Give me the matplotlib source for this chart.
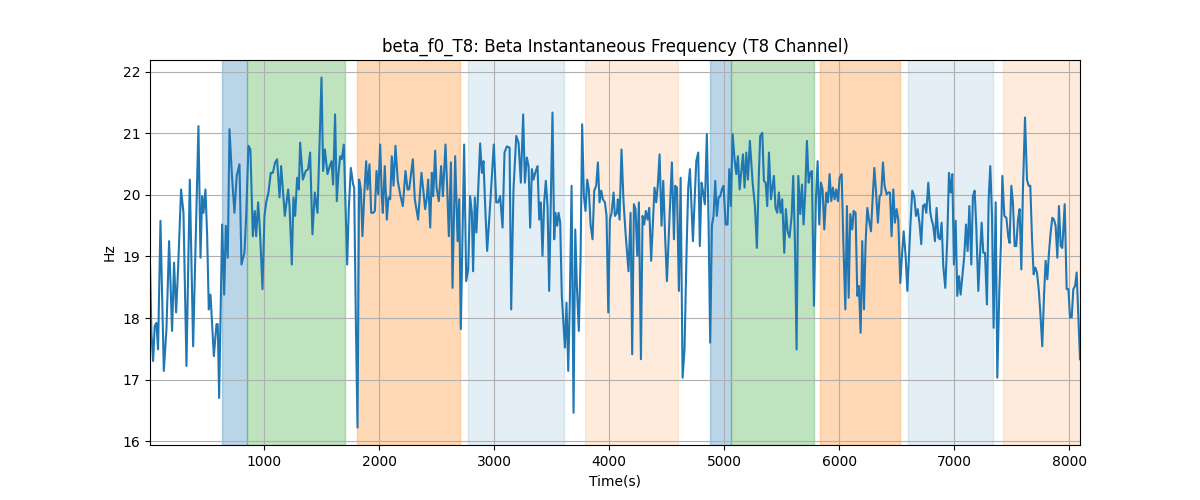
import matplotlib
matplotlib.use('Agg')
import matplotlib.pyplot as plt

# time (s) and beta instantaneous frequency (Hz)
time = [8, 20, 35, 49, 64, 78, 99, 128, 151, 174, 200, 217, 235, 252, 278, 299, 325, 354, 383, 403,
        429, 447, 461, 473, 490, 505, 519, 534, 563, 586, 597, 609, 635, 653, 667,
        684, 699, 719, 742, 762, 786, 803, 829, 844, 864, 881, 902, 919, 931, 948, 963, 986, 1003,
        1018, 1038, 1058, 1076, 1096, 1113, 1134, 1148, 1180, 1209, 1221, 1241, 1255, 1270, 1287,
        1302, 1313, 1337,
        1362, 1383, 1400, 1420, 1441, 1464, 1499, 1513, 1528, 1551, 1571, 1586, 1600, 1617, 1632,
        1646, 1661, 1675, 1693, 1704, 1722, 1736, 1754, 1774, 1783, 1797, 1812, 1826, 1841, 1855,
        1870, 1887, 1899, 1916, 1931, 1948, 1963, 1977, 1992, 2009, 2023,
        2032, 2049, 2067, 2081, 2096, 2110, 2125, 2142, 2162, 2186, 2206, 2229, 2247, 2261, 2275,
        2293, 2310, 2339, 2368, 2386, 2400, 2415, 2426, 2444, 2458, 2470, 2487, 2499, 2519, 2539,
        2554, 2577, 2592, 2606, 2624, 2638, 2661, 2682, 2696, 2710,
        2739, 2757, 2774, 2791, 2806, 2817, 2832, 2846, 2861, 2878, 2893, 2907, 2922, 2939, 2959,
        2980, 2997, 3018, 3035, 3052, 3073, 3090, 3110, 3134, 3148, 3168, 3192, 3212, 3232, 3252,
        3267, 3284, 3299, 3313, 3328, 3342, 3357, 3377, 3392,
        3406, 3420, 3435, 3449, 3464, 3478, 3493, 3507, 3522, 3533, 3548, 3560, 3574, 3588, 3615,
        3629, 3644, 3658, 3673, 3690, 3705, 3719, 3736, 3751, 3765, 3780, 3794, 3809, 3823, 3838,
        3855, 3870, 3887, 3902, 3916, 3931, 3945, 3963, 3977, 3992, 4006, 4021, 4038, 4050, 4067,
        4075, 4090, 4107, 4125, 4142, 4168, 4186, 4200, 4215, 4229, 4244, 4258, 4276, 4290, 4304,
        4319, 4334, 4348, 4365, 4380, 4394, 4409, 4423, 4438, 4455, 4470, 4487, 4502, 4525, 4545,
        4563, 4574, 4589, 4606, 4621, 4638, 4655, 4673, 4687, 4702, 4728, 4757,
        4774, 4788, 4803, 4817, 4832, 4849, 4864, 4878, 4893, 4907, 4922, 4936, 4951, 4965, 4980,
        4994, 5012, 5029, 5044, 5058, 5073, 5090, 5105, 5119, 5134, 5151, 5163, 5177, 5192, 5206,
        5223, 5247, 5267, 5284, 5302, 5313, 5331, 5345, 5360, 5374, 5389, 5406,
        5432, 5446, 5461, 5475, 5490, 5504, 5522, 5536, 5551, 5568, 5586, 5600, 5615, 5629, 5644,
        5661, 5676, 5690, 5704, 5719, 5734, 5748, 5762, 5780, 5797, 5812, 5826, 5841, 5855, 5870,
        5887, 5902, 5916, 5931, 5945, 5960, 5974, 5989, 6003, 6021, 6035, 6053, 6067, 6082, 6096, 6113,
        6125, 6142, 6157, 6171, 6186, 6200, 6215, 6229, 6244, 6258, 6276, 6290, 6305, 6319, 6336,
        6351, 6365, 6380, 6394, 6412, 6426, 6441, 6455, 6470, 6484, 6499, 6513, 6531, 6545, 6560,
        6577, 6592, 6606, 6621, 6635, 6652, 6667, 6682, 6699, 6713, 6728, 6742, 6757, 6774, 6792,
        6803, 6817, 6832, 6846, 6861, 6875, 6890, 6904, 6922, 6939, 6954, 6968, 6983, 6997, 7012,
        7026, 7041, 7055, 7073, 7087, 7102, 7116, 7131, 7148, 7162, 7177, 7191, 7209, 7223, 7238,
        7252, 7267, 7284, 7299, 7313, 7328, 7342, 7360, 7374, 7392, 7406, 7418, 7435, 7453, 7470,
        7481, 7496, 7510, 7525, 7539, 7554, 7568, 7583, 7597, 7615, 7632, 7647, 7661, 7676, 7690,
        7705, 7719, 7734, 7748, 7765, 7780, 7794, 7809, 7823, 7838, 7852, 7867, 7881, 7896, 7910,
        7925, 7939, 7960, 7977, 7992, 8006, 8021, 8035, 8050, 8064, 8079, 8093]

beta_f0 = [18.90, 17.76, 17.30, 17.87, 17.92, 17.49, 19.58, 17.14, 17.82, 19.25, 17.79, 18.90, 18.09, 18.79,
           20.09, 19.71, 17.22, 20.25, 17.54, 19.12, 21.12, 18.98, 19.98, 19.71, 20.09, 19.33, 18.14,
           18.38, 17.38, 17.90, 17.90, 16.70, 19.52, 18.38, 19.50,
           18.98, 21.07, 20.36, 19.71, 20.31, 20.50, 18.87, 19.06, 19.66, 20.80, 20.74, 19.33, 19.74,
           19.33, 19.88, 19.45, 18.47, 19.66, 19.88, 20.04, 20.36, 20.36, 20.53, 20.58, 19.96, 20.47,
           19.66, 20.09, 19.82, 18.87, 19.96, 19.66, 20.28, 20.09, 20.85, 20.25,
           20.39, 20.42, 20.69, 19.36, 20.04, 19.71, 21.91, 20.39, 20.74, 20.34, 20.47, 20.55, 20.17,
           21.31, 19.90, 20.34, 20.63, 20.58, 20.82, 20.09, 18.87, 19.77, 20.44, 20.17, 20.12, 18.03,
           16.22, 20.25, 20.09, 19.33, 19.98, 20.55, 20.09, 20.50, 19.71, 19.71, 19.74, 20.39, 20.01,
           20.82, 19.98,
           19.71, 20.47, 19.60, 19.96, 19.93, 20.63, 20.15, 20.80, 20.23, 19.98, 19.82, 20.39, 20.09,
           20.09, 20.31, 20.58, 19.93, 19.60, 20.36, 20.04, 19.77, 19.96, 20.25, 19.47, 20.36, 19.98,
           20.72, 20.12, 19.90, 20.47, 19.98, 20.82, 20.09, 19.33, 20.53, 18.49, 20.63, 19.25, 19.93, 17.82,
           20.82, 18.60, 18.79, 19.98, 19.71, 18.76, 19.96, 19.39, 20.09, 20.84, 20.36, 20.55, 19.82,
           19.09, 19.66, 20.31, 20.82, 19.88, 19.88, 19.98, 19.47, 20.69, 20.79, 20.77, 18.14, 20.09,
           20.96, 20.85, 20.20, 21.31, 20.20, 20.61, 20.47, 19.47, 20.42, 20.25, 20.36, 20.47, 19.60,
           19.88, 19.01, 19.88, 20.23, 19.82, 18.44, 19.98, 21.34, 19.28, 19.71, 19.50, 19.71, 19.55,
           18.36, 17.52, 18.25, 17.14, 18.30, 20.15, 16.46, 19.44, 18.52, 17.79, 18.95, 21.15, 19.98,
           19.74, 20.25, 20.09, 19.52, 19.28, 20.07, 20.15, 20.53, 19.88, 20.07, 19.93, 19.88, 19.66,
           18.09, 19.60, 19.71, 20.04, 19.66, 19.71,
           19.93, 19.60, 20.74, 19.88, 19.39, 18.76, 19.71, 17.41, 19.85, 19.77, 19.01, 19.88, 17.33,
           19.66, 19.52, 19.74, 19.60, 19.79, 18.93, 19.55, 20.12, 19.88, 20.17, 20.66, 19.50, 20.23,
           19.28, 18.60, 19.66, 20.53, 19.28, 20.15, 20.12, 18.44, 20.28, 17.03, 17.49, 19.12, 20.12,
           20.42, 19.25, 20.55,
           20.69, 19.17, 20.20, 20.04, 19.85, 20.99, 19.55, 17.60, 19.50, 19.66, 20.23, 19.66, 19.96,
           19.98, 20.09, 20.15, 19.52, 19.52, 20.42, 19.82, 20.99, 20.58, 20.34, 20.63, 20.09, 20.42,
           20.66, 20.12, 20.69, 20.25, 20.88, 20.20, 19.82, 19.14, 20.39, 20.96, 21.01, 20.23, 20.20,
           19.82, 20.69, 19.93,
           20.31, 19.79, 19.71, 20.04, 19.71, 19.93, 19.06, 19.77, 19.41, 19.31, 19.66, 20.31, 19.22,
           17.49, 20.31, 19.69, 20.17, 19.52, 20.04, 20.88, 20.20, 20.36, 20.39, 18.20, 19.93, 20.55,
           19.52, 20.20, 20.09, 19.44, 20.04, 19.88, 20.34, 19.90, 20.12, 19.93, 20.09, 19.90, 20.28,
           20.34, 19.28, 18.14, 19.82, 18.33, 19.69, 19.44,
           19.74, 19.71, 18.36, 18.52, 17.76, 19.25, 18.14, 19.22, 19.79, 19.60, 19.41, 19.93, 20.44,
           20.07, 19.55, 19.98, 20.01, 20.53, 20.15, 20.01, 20.04, 20.04, 19.33, 20.09, 19.55, 19.77,
           19.60, 18.57, 19.01, 19.41, 19.01, 18.44, 19.01, 19.60, 20.07, 19.98, 19.66, 19.77, 19.52,
           19.20, 19.82, 19.85, 19.71, 20.20, 19.71,
           19.60, 19.50, 19.25, 19.79, 19.31, 19.28, 19.55, 18.85, 18.49, 19.28, 20.36, 20.04, 20.34,
           18.87, 19.58, 18.36, 18.68, 18.38, 18.74, 19.01, 19.52, 19.09, 19.82, 18.87, 19.98, 20.07,
           19.50, 18.44, 19.01, 19.55, 19.06, 19.06, 18.22, 19.93, 20.47, 19.66, 17.84, 19.88, 17.03,
           18.47, 19.22, 20.31, 19.66, 19.63, 19.31,
           19.22, 20.15, 19.88, 19.17, 19.17, 19.60, 19.77, 18.79, 20.09, 21.26, 20.25, 20.15, 20.15,
           19.28, 18.71, 18.82, 18.74, 18.47, 18.09, 17.54, 18.36, 18.93, 18.63, 19.06, 19.39, 19.63,
           19.60, 19.50, 18.98, 19.82, 19.17, 19.14, 19.85, 18.47, 18.47, 18.01, 18.01, 18.47, 18.52,
           18.74, 18.03, 17.33]

# shaded segments
seg_start = [635, 852, 1809, 2774, 3791, 4878, 5061, 5835, 6600, 7426]
seg_end = [852, 1704, 2704, 3609, 4600, 5061, 5783, 6530, 7339, 8093]
seg_color = ['tab:blue', 'tab:green', 'tab:orange', 'tab:blue', 'tab:orange',
             'tab:blue', 'tab:green', 'tab:orange', 'tab:blue', 'tab:orange']
seg_alpha = [0.3, 0.3, 0.3, 0.12, 0.15, 0.3, 0.3, 0.3, 0.12, 0.15]

fig, ax = plt.subplots(figsize=(12, 5), dpi=100)
for s, e, c, a in zip(seg_start, seg_end, seg_color, seg_alpha):
    ax.axvspan(s, e, color=c, alpha=a)
ax.plot(time, beta_f0, color='tab:blue')
ax.margins(x=0)
ax.set_title('beta_f0_T8: Beta Instantaneous Frequency (T8 Channel)')
ax.set_xlabel('Time(s)')
ax.set_ylabel('Hz')
ax.grid(True)
fig.savefig('out.png')
